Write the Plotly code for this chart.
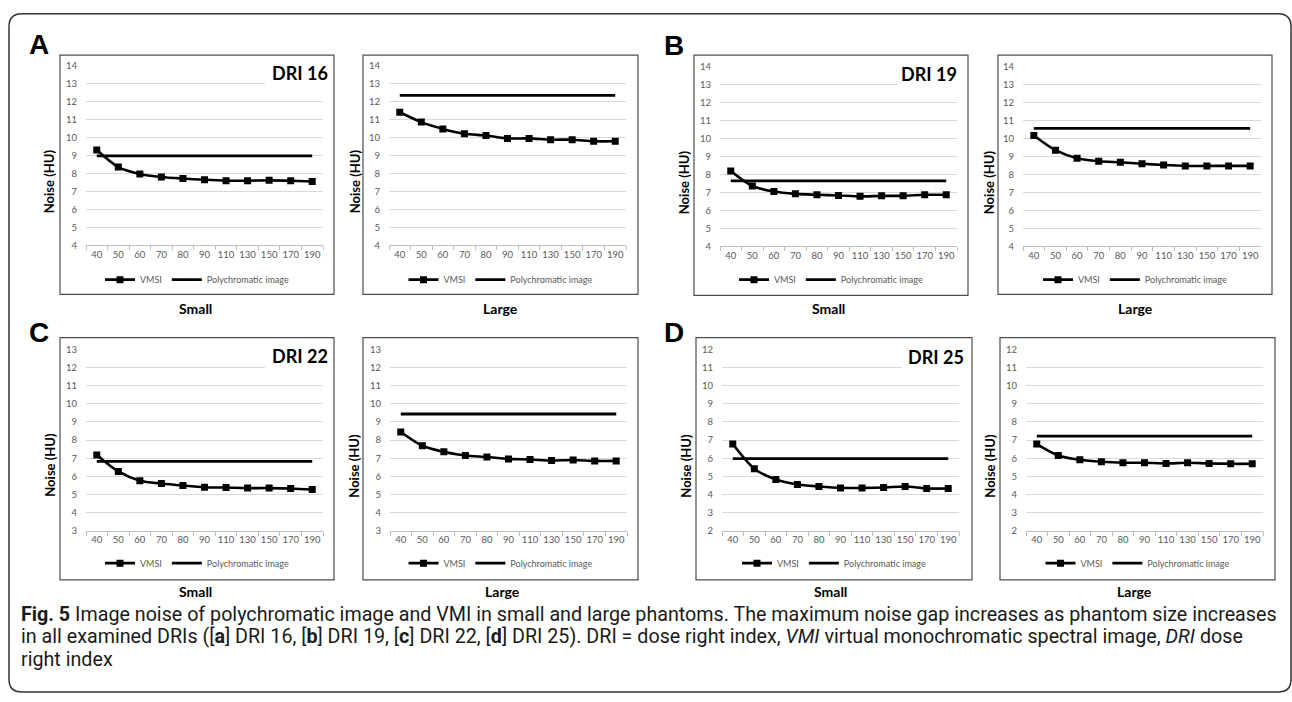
import plotly.graph_objects as go

W, H = 1292, 702

energies = ["40", "50", "60", "70", "80", "90", "110", "130", "150", "170", "190"]

a_small_vmsi = [9.31, 8.36, 7.98, 7.81, 7.72, 7.65, 7.60, 7.60, 7.62, 7.60, 7.56]
a_small_poly = 8.98
a_large_vmsi = [11.42, 10.87, 10.49, 10.22, 10.12, 9.96, 9.96, 9.89, 9.89, 9.80, 9.80]
a_large_poly = 12.36
b_small_vmsi = [8.20, 7.36, 7.05, 6.92, 6.87, 6.83, 6.78, 6.81, 6.81, 6.87, 6.87]
b_small_poly = 7.65
b_large_vmsi = [10.18, 9.36, 8.91, 8.74, 8.68, 8.60, 8.53, 8.48, 8.48, 8.48, 8.48]
b_large_poly = 10.58
c_small_vmsi = [7.18, 6.27, 5.76, 5.60, 5.49, 5.40, 5.38, 5.35, 5.35, 5.33, 5.27]
c_small_poly = 6.82
c_large_vmsi = [8.45, 7.69, 7.35, 7.15, 7.07, 6.96, 6.93, 6.87, 6.90, 6.85, 6.85]
c_large_poly = 9.44
d_small_vmsi = [6.78, 5.42, 4.82, 4.55, 4.44, 4.36, 4.36, 4.38, 4.44, 4.33, 4.33]
d_small_poly = 5.98
d_large_vmsi = [6.78, 6.15, 5.91, 5.80, 5.75, 5.75, 5.71, 5.75, 5.71, 5.69, 5.69]
d_large_poly = 7.22

panel_letters = ["A", "B", "C", "D"]
dri_labels = ["DRI 16", "DRI 19", "DRI 22", "DRI 25"]
size_labels = ["Small", "Large"]
y_ranges = [[4, 14], [4, 14], [3, 13], [2, 12]]
series_names = ["VMSI", "Polychromatic image"]
y_title = "Noise (HU)"


def px(x):
    return x / W


def py(y):
    return 1 - y / H


# layout geometry (pixels): plot area x0,x1,y0,y1 ; box ; ytitle x,y ; xtitle x,y ; legend y
panels = [
    dict(vm=a_small_vmsi, po=a_small_poly, g=0, plot=(86, 323, 61, 243), box=(60, 334, 50, 293), yt=(49, 178), xt=(195, 307), ly=278),
    dict(vm=a_large_vmsi, po=a_large_poly, g=0, plot=(389, 626, 61, 243), box=(363, 638, 50, 293), yt=(355, 178), xt=(500, 307), ly=278),
    dict(vm=b_small_vmsi, po=b_small_poly, g=1, plot=(720, 957, 62, 244), box=(694, 968, 50, 294), yt=(684, 179), xt=(828, 307), ly=278),
    dict(vm=b_large_vmsi, po=b_large_poly, g=1, plot=(1023, 1261, 62, 244), box=(998, 1272, 50, 293), yt=(989, 179), xt=(1135, 307), ly=278),
    dict(vm=c_small_vmsi, po=c_small_poly, g=2, plot=(86, 323, 349, 533), box=(60, 334, 337, 583), yt=(50, 466), xt=(195, 595), ly=566),
    dict(vm=c_large_vmsi, po=c_large_poly, g=2, plot=(390, 627, 349, 533), box=(363, 638, 337, 583), yt=(354, 467), xt=(502, 595), ly=566),
    dict(vm=d_small_vmsi, po=d_small_poly, g=3, plot=(722, 959, 349, 533), box=(696, 972, 337, 583), yt=(686, 467), xt=(830, 595), ly=566),
    dict(vm=d_large_vmsi, po=d_large_poly, g=3, plot=(1026, 1263, 349, 533), box=(1000, 1275, 337, 583), yt=(990, 467), xt=(1134, 595), ly=566),
]

letter_pos = [(39, 39), (674, 40), (39, 332), (674, 332)]
dri_pos = [(300, 68), (929, 69), (300, 356), (936, 357)]
dri_cover = [(265, 325, 54, 88), (898, 959, 55, 89), (265, 325, 342, 376), (902, 961, 342, 376)]

fig = go.Figure()
shapes = []
annotations = []
layout = {}

FONT = "Lato, Open Sans, sans-serif"
TICKC = "#595959"

for i, p in enumerate(panels):
    n = "" if i == 0 else str(i + 1)
    xa, ya = "x" + n, "y" + n
    leg = "legend" + n
    x0, x1, y0, y1 = p["plot"]
    fig.add_trace(go.Scatter(
        x=energies, y=p["vm"], name=series_names[0], mode="lines+markers",
        line=dict(color="black", width=2.6, shape="spline", smoothing=0.8),
        marker=dict(symbol="square", size=7, color="black"),
        xaxis=xa, yaxis=ya, legend=leg, hoverinfo="skip"))
    fig.add_trace(go.Scatter(
        x=energies, y=[p["po"]] * len(energies), name=series_names[1], mode="lines",
        line=dict(color="black", width=2.8),
        xaxis=xa, yaxis=ya, legend=leg, hoverinfo="skip"))
    layout["xaxis" + n] = dict(
        domain=[px(x0), px(x1)], anchor=ya, type="category",
        categoryorder="array", categoryarray=energies,
        range=[-0.5, len(energies) - 0.5],
        showline=True, linecolor="#bfbfbf", linewidth=1,
        ticks="outside", tickson="boundaries", ticklen=4, tickcolor="#bfbfbf",
        showgrid=False, zeroline=False,
        tickfont=dict(family=FONT, size=9.5, color=TICKC), tickangle=0,
        fixedrange=True)
    layout["yaxis" + n] = dict(
        domain=[py(y1), py(y0)], anchor=xa, range=y_ranges[p["g"]], dtick=1,
        showline=False, showgrid=True, gridcolor="#d9d9d9", gridwidth=1,
        zeroline=False, ticks="", ticklabelstandoff=8,
        tickfont=dict(family=FONT, size=9.5, color=TICKC), fixedrange=True)
    bx0, bx1, by0, by1 = p["box"]
    layout[leg] = dict(
        orientation="h", x=px((bx0 + bx1) / 2), xanchor="center",
        y=py(p["ly"]), yanchor="middle", bgcolor="rgba(0,0,0,0)",
        font=dict(family=FONT, size=9, color=TICKC),
        itemwidth=30, tracegroupgap=0, itemclick=False, itemdoubleclick=False)
    shapes.append(dict(type="rect", xref="paper", yref="paper",
                       x0=px(bx0), x1=px(bx1), y0=py(by1), y1=py(by0),
                       line=dict(color="#4d4d4d", width=1.2), fillcolor="rgba(0,0,0,0)", layer="above"))
    annotations.append(dict(
        text="<b>%s</b>" % y_title, x=px(p["yt"][0]), y=py(p["yt"][1]),
        xref="paper", yref="paper", showarrow=False, textangle=-90,
        xanchor="center", yanchor="middle",
        font=dict(family=FONT, size=13, color="black")))
    annotations.append(dict(
        text="<b>%s</b>" % size_labels[i % 2], x=px(p["xt"][0]), y=py(p["xt"][1]),
        xref="paper", yref="paper", showarrow=False,
        xanchor="center", yanchor="middle",
        font=dict(family=FONT, size=14, color="black")))

for g in range(4):
    cx0, cx1, cy0, cy1 = dri_cover[g]
    shapes.append(dict(type="rect", xref="paper", yref="paper",
                       x0=px(cx0), x1=px(cx1), y0=py(cy1), y1=py(cy0),
                       line=dict(width=0), fillcolor="white", layer="above"))
    annotations.append(dict(
        text="<b>%s</b>" % dri_labels[g], x=px(dri_pos[g][0]), y=py(dri_pos[g][1]),
        xref="paper", yref="paper", showarrow=False, xanchor="center", yanchor="middle",
        font=dict(family=FONT, size=18, color="black")))
    annotations.append(dict(
        text="<b>%s</b>" % panel_letters[g], x=px(letter_pos[g][0]), y=py(letter_pos[g][1]),
        xref="paper", yref="paper", showarrow=False, xanchor="center", yanchor="middle",
        font=dict(family="Liberation Sans, Arial, sans-serif", size=28, color="black")))

# outer rounded border
L, R, T, B, r = 9, 1291, 8, 697, 13
path = (f"M {px(L + r)} {py(T)} L {px(R - r)} {py(T)} Q {px(R)} {py(T)} {px(R)} {py(T + r)} "
        f"L {px(R)} {py(B - r)} Q {px(R)} {py(B)} {px(R - r)} {py(B)} "
        f"L {px(L + r)} {py(B)} Q {px(L)} {py(B)} {px(L)} {py(B - r)} "
        f"L {px(L)} {py(T + r)} Q {px(L)} {py(T)} {px(L + r)} {py(T)} Z")
shapes.append(dict(type="path", xref="paper", yref="paper", path=path,
                   line=dict(color="#333333", width=1.5), layer="above"))

caption_lines = [
    "<b>Fig. 5</b> Image noise of polychromatic image and VMI in small and large phantoms. The maximum noise gap increases as phantom size increases",
    "in all examined DRIs ([<b>a</b>] DRI 16, [<b>b</b>] DRI 19, [<b>c</b>] DRI 22, [<b>d</b>] DRI 25). DRI = dose right index, <i>VMI</i> virtual monochromatic spectral image, <i>DRI</i> dose",
    "right index",
]
cap_y = [618, 641, 664]
for t, yy in zip(caption_lines, cap_y):
    annotations.append(dict(
        text=t, x=px(19), y=py(yy), xref="paper", yref="paper", showarrow=False,
        xanchor="left", yanchor="middle",
        font=dict(family="Roboto, sans-serif", size=19.7, color="#1a1a1a")))

fig.update_layout(
    width=W, height=H, margin=dict(l=0, r=0, t=0, b=0),
    paper_bgcolor="white", plot_bgcolor="white",
    showlegend=True, shapes=shapes, annotations=annotations, **layout)

fig.write_html(
    "out.html",
    config={"displayModeBar": False},
    post_script=("document.documentElement.style.margin='0';"
                 "document.body.style.margin='0';document.body.style.overflow='hidden';"
                 "var d=document.getElementById('{plot_id}');"
                 "d.style.position='absolute';d.style.left='0px';d.style.top='0px';"))
